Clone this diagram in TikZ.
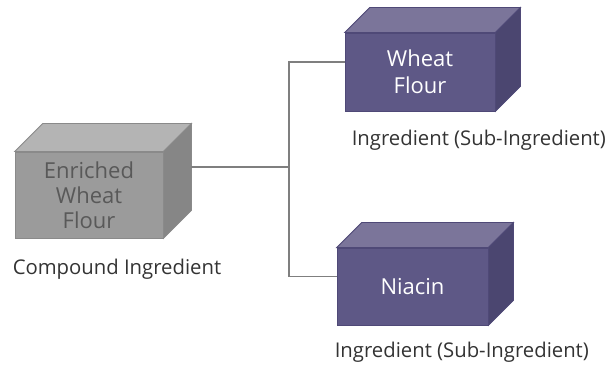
\documentclass[tikz,border=0pt]{standalone}
\usepackage{fontspec}
\setmainfont{Open Sans}
\usetikzlibrary{positioning,calc}
\definecolor{grayFront}{HTML}{9B9B9B}
\definecolor{grayTop}{HTML}{B4B4B4}
\definecolor{graySide}{HTML}{868686}
\definecolor{grayEdge}{HTML}{8A8A8A}
\definecolor{grayText}{HTML}{595959}
\definecolor{purpleFront}{HTML}{5E5886}
\definecolor{purpleTop}{HTML}{7B759A}
\definecolor{purpleSide}{HTML}{4B4670}
\definecolor{purpleEdge}{HTML}{4F4977}
\definecolor{wireGray}{HTML}{7F7F7F}

\begin{document}
\begin{tikzpicture}[x=1pt,y=-1pt,
  cube/.style={rectangle, inner sep=0pt, align=center, line width=0.8pt},
  compound/.style={cube, fill=grayFront, draw=grayEdge, text=grayText,
    minimum width=148pt, minimum height=86pt, font=\fontsize{22}{25}\selectfont},
  ingredient/.style={cube, fill=purpleFront, draw=purpleEdge, text=white,
    minimum width=150pt, minimum height=78pt, font=\fontsize{22}{27}\selectfont},
  tag/.style={inner sep=0pt, text=black!80, font=\fontsize{20.3}{22}\selectfont},
  wire/.style={draw=wireGray, line width=1.2pt}]
\useasboundingbox (0,0) rectangle (613,366);

\node[compound] (EWF) at (89,195) {Enriched\\Wheat\\Flour};
\node[ingredient] (WF) at (420,72) {Wheat\\Flour};
\node[ingredient, minimum width=151pt, minimum height=77pt] (NI) at (412.5,286.5) {Niacin};

% top and side of each box
\foreach \nm/\d/\col in {EWF/28/gray, WF/25/purple, NI/25/purple} {
  \fill[\col Top, draw=\col Edge, line width=0.8pt] (\nm.north west) -- ++(\d,-\d)
    -- ($(\nm.north east)+(\d,-\d)$) -- (\nm.north east) -- cycle;
  \fill[\col Side, draw=\col Edge, line width=0.8pt] (\nm.north east) -- ++(\d,-\d)
    -- ($(\nm.south east)+(\d,-\d)$) -- (\nm.south east) -- cycle;
}

\node[tag, below right=20pt and -2pt of EWF.south west] (EWFtag) {Compound Ingredient};
\node[tag, below right=18pt and 7pt of WF.south west] (WFtag) {Ingredient (Sub-Ingredient)};
\node[tag, below right=16pt and -2pt of NI.south west] (NItag) {Ingredient (Sub-Ingredient)};

\coordinate (EWFout) at ($(EWF.east)+(28,-28)$);
\coordinate (WFin) at ([yshift=10pt]WF.west);
\coordinate (NIin) at ([yshift=10pt]NI.west);
\coordinate (J) at (289,167);
\draw[wire] (EWFout) -- (J);
\draw[wire] (WFin) -| (J) |- (NIin);
\end{tikzpicture}
\end{document}
